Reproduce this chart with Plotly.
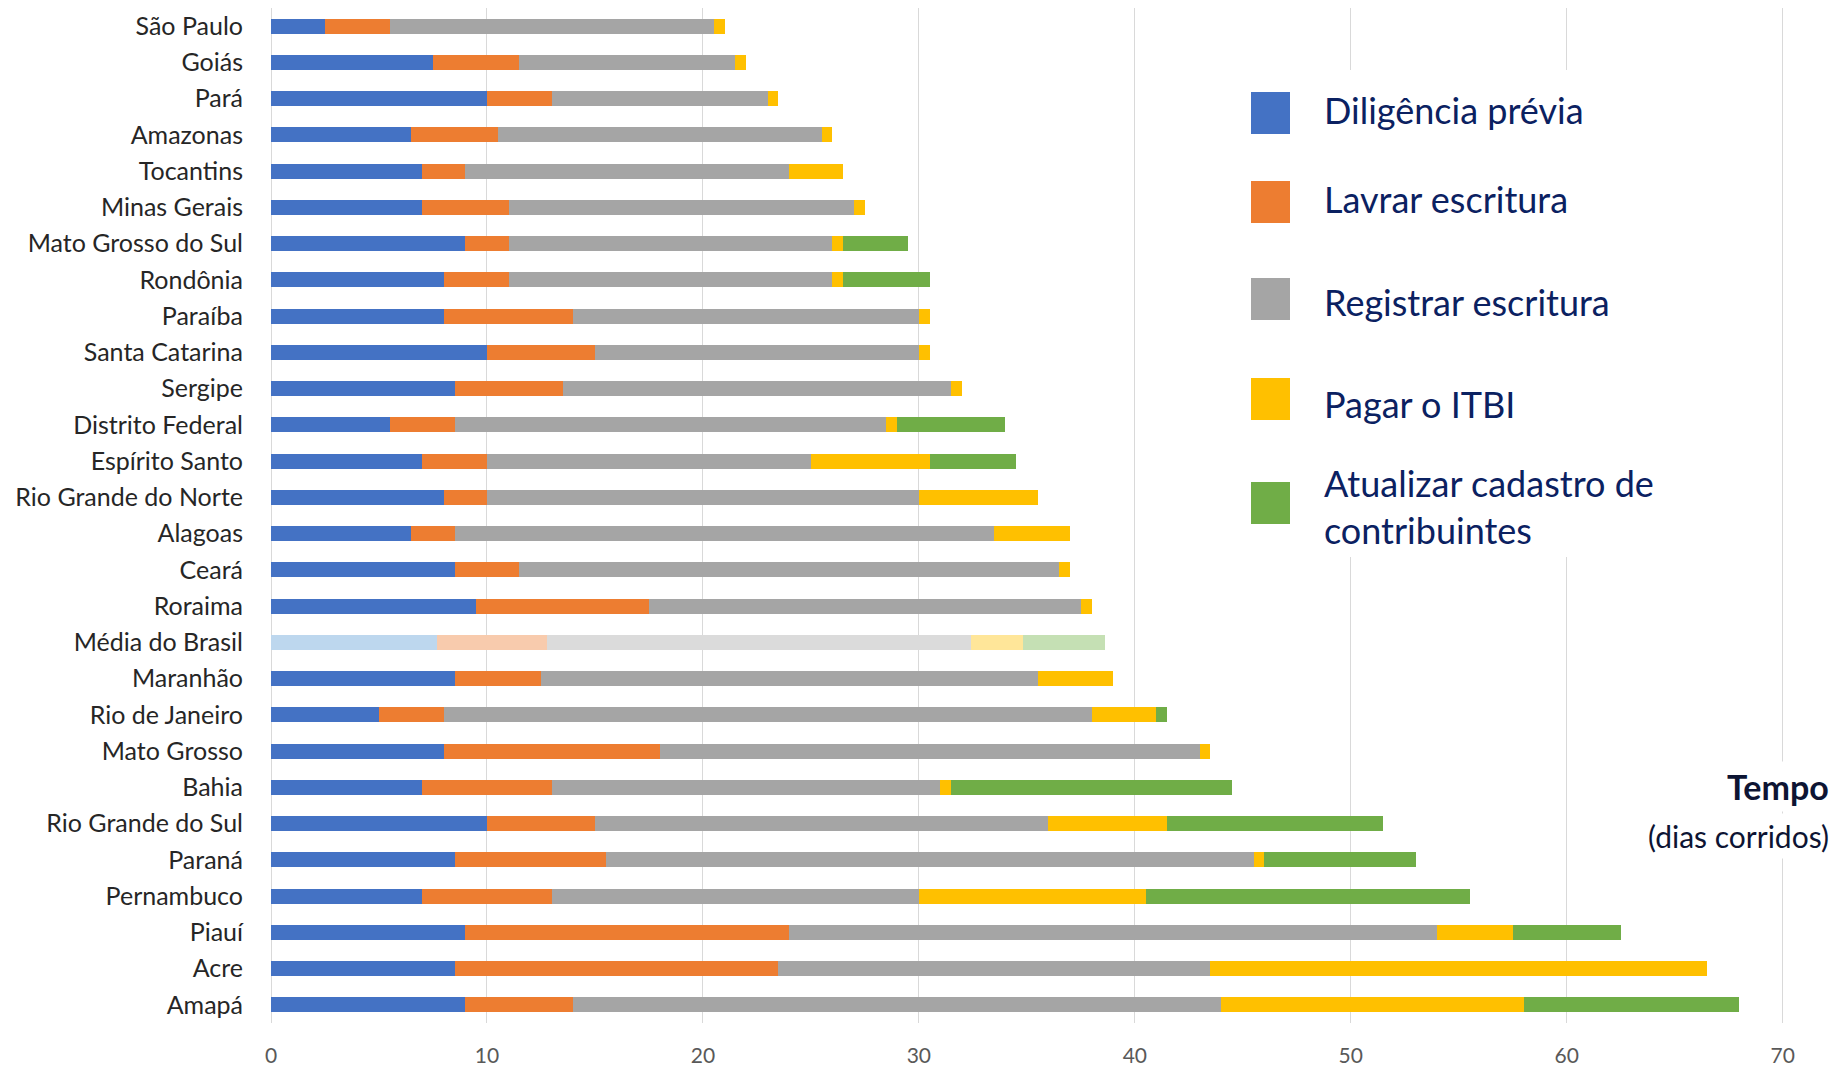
import plotly.graph_objects as go

categories = ["São Paulo", "Goiás", "Pará", "Amazonas", "Tocantins", "Minas Gerais",
              "Mato Grosso do Sul", "Rondônia", "Paraíba", "Santa Catarina", "Sergipe",
              "Distrito Federal", "Espírito Santo", "Rio Grande do Norte", "Alagoas", "Ceará",
              "Roraima", "Média do Brasil", "Maranhão", "Rio de Janeiro", "Mato Grosso", "Bahia",
              "Rio Grande do Sul", "Paraná", "Pernambuco", "Piauí", "Acre", "Amapá"]

diligencia = [2.5, 7.5, 10, 6.5, 7, 7, 9, 8, 8, 10, 8.5, 5.5, 7, 8, 6.5, 8.5, 9.5, 7.7, 8.5, 5, 8, 7, 10, 8.5, 7, 9, 8.5, 9]
lavrar = [3, 4, 3, 4, 2, 4, 2, 3, 6, 5, 5, 3, 3, 2, 2, 3, 8, 5.1, 4, 3, 10, 6, 5, 7, 6, 15, 15, 5]
registrar = [15, 10, 10, 15, 15, 16, 15, 15, 16, 15, 18, 20, 15, 20, 25, 25, 20, 19.6, 23, 30, 25, 18, 21, 30, 17, 30, 20, 30]
itbi = [0.5, 0.5, 0.5, 0.5, 2.5, 0.5, 0.5, 0.5, 0.5, 0.5, 0.5, 0.5, 5.5, 5.5, 3.5, 0.5, 0.5, 2.4, 3.5, 3, 0.5, 0.5, 5.5, 0.5, 10.5, 3.5, 23, 14]
cadastro = [0, 0, 0, 0, 0, 0, 3, 4, 0, 0, 0, 5, 4, 0, 0, 0, 0, 3.8, 0, 0.5, 0, 13, 10, 7, 15, 5, 0, 10]

series_names = ["Diligência prévia", "Lavrar escritura", "Registrar escritura", "Pagar o ITBI",
                "Atualizar cadastro de<br>contribuintes"]
series_values = [diligencia, lavrar, registrar, itbi, cadastro]
colors = ["#4472C4", "#ED7D31", "#A5A5A5", "#FFC000", "#70AD47"]
light_colors = ["#BDD7EE", "#F8CBAD", "#DBDBDB", "#FFE699", "#C5E0B4"]
highlight = "Média do Brasil"

FONT = "Lato, 'Noto Sans', sans-serif"
W, H = 1840, 1072
ML, MR, MT, MB = 271, 53, 8, 49
PW, PH = W - ML - MR, H - MT - MB

fig = go.Figure()
for name, vals, c, lc in zip(series_names, series_values, colors, light_colors):
    fig.add_trace(go.Bar(
        y=categories, x=vals, orientation="h", name=name,
        marker=dict(color=[lc if cat == highlight else c for cat in categories], line=dict(width=0)),
        showlegend=False,
    ))

def px2x(px):
    return (px - ML) / PW

def py2y(py):
    return (MT + PH - py) / PH

shapes = [dict(type="rect", xref="paper", yref="paper",
               x0=px2x(1240), x1=px2x(1770), y0=py2y(557), y1=py2y(70),
               fillcolor="white", line=dict(width=0), layer="above")]
annotations = []
legend_sq_y = [113, 202, 299, 399, 503]
legend_txt_y = [110, 199, 302, 404, 506]
for name, c, sy, ty in zip(series_names, colors, legend_sq_y, legend_txt_y):
    shapes.append(dict(type="rect", xref="paper", yref="paper",
                       x0=px2x(1251), x1=px2x(1290), y0=py2y(sy + 21), y1=py2y(sy - 21),
                       fillcolor=c, line=dict(width=0), layer="above"))
    annotations.append(dict(xref="paper", yref="paper", x=px2x(1322), y=py2y(ty),
                            xanchor="left", yanchor="middle", align="left", showarrow=False,
                            text=name, font=dict(family=FONT, size=36, color="#0B2161")))

annotations.append(dict(xref="paper", yref="paper", x=px2x(1834), y=py2y(786),
                        xanchor="right", yanchor="middle", showarrow=False,
                        text="<b>Tempo</b>", bgcolor="white", borderpad=4,
                        font=dict(family=FONT, size=34, color="#0D1433")))
annotations.append(dict(xref="paper", yref="paper", x=px2x(1834), y=py2y(836),
                        xanchor="right", yanchor="middle", showarrow=False,
                        text="(dias corridos)", bgcolor="white", borderpad=4,
                        font=dict(family=FONT, size=30, color="#0D1433")))

fig.update_layout(
    width=W, height=H, barmode="stack", bargap=0.58,
    margin=dict(l=ML, r=MR, t=MT, b=MB, pad=0, autoexpand=False),
    plot_bgcolor="white", paper_bgcolor="white",
    font=dict(family=FONT),
    shapes=shapes, annotations=annotations,
    xaxis=dict(range=[0, 70.2], dtick=10, tick0=0, showgrid=True, gridcolor="#D9D9D9", gridwidth=1,
               zeroline=True, zerolinecolor="#D9D9D9", zerolinewidth=1, automargin=False,
               ticks="outside", ticklen=14, tickcolor="rgba(0,0,0,0)",
               tickfont=dict(family=FONT, size=21, color="#595959"), showline=False),
    yaxis=dict(autorange="reversed", showgrid=False, zeroline=False, showline=False, automargin=False,
               ticks="outside", ticklen=22, tickcolor="rgba(0,0,0,0)",
               tickfont=dict(family=FONT, size=25, color="#262626")),
)

fig.write_html("out.html")
